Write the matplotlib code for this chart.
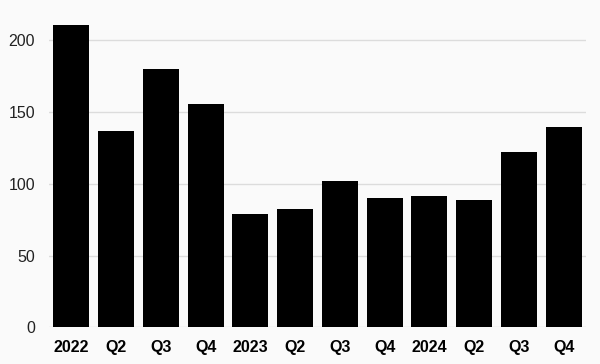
import matplotlib
matplotlib.use("Agg")
from matplotlib import pyplot as plt

labels = ["2022", "Q2", "Q3", "Q4", "2023", "Q2", "Q3", "Q4", "2024", "Q2", "Q3", "Q4"]
values = [210.5, 137, 180, 155.5, 79, 82.5, 102, 90, 91.5, 88.5, 122, 139.5]
yticks = [0, 50, 100, 150, 200]

bg = "#fafafa"
plt.rcParams["font.family"] = ["Liberation Sans", "DejaVu Sans"]

fig = plt.figure(figsize=(6, 3.64), dpi=100, facecolor=bg)
ax = fig.add_axes([0.0817, 0.1008, 0.895, 0.887], facecolor=bg)

x = list(range(len(values)))
ax.bar(x, values, width=0.8, color="black", zorder=3)

ax.set_xlim(-0.5, len(values) - 0.5)
ax.set_ylim(0, 225)
ax.set_yticks(yticks)
ax.set_xticks(x)
ax.set_xticklabels(labels, fontweight="bold")
ax.yaxis.grid(True, color="#dcdcdc", linewidth=1, zorder=0)

for s in ax.spines.values():
    s.set_visible(False)
ax.tick_params(axis="y", length=0, pad=10, labelsize=11.5, labelcolor="#222222")
ax.tick_params(axis="x", length=0, pad=9, labelsize=11.5, labelcolor="black")

fig.savefig("out.png", dpi=100, facecolor=bg)
